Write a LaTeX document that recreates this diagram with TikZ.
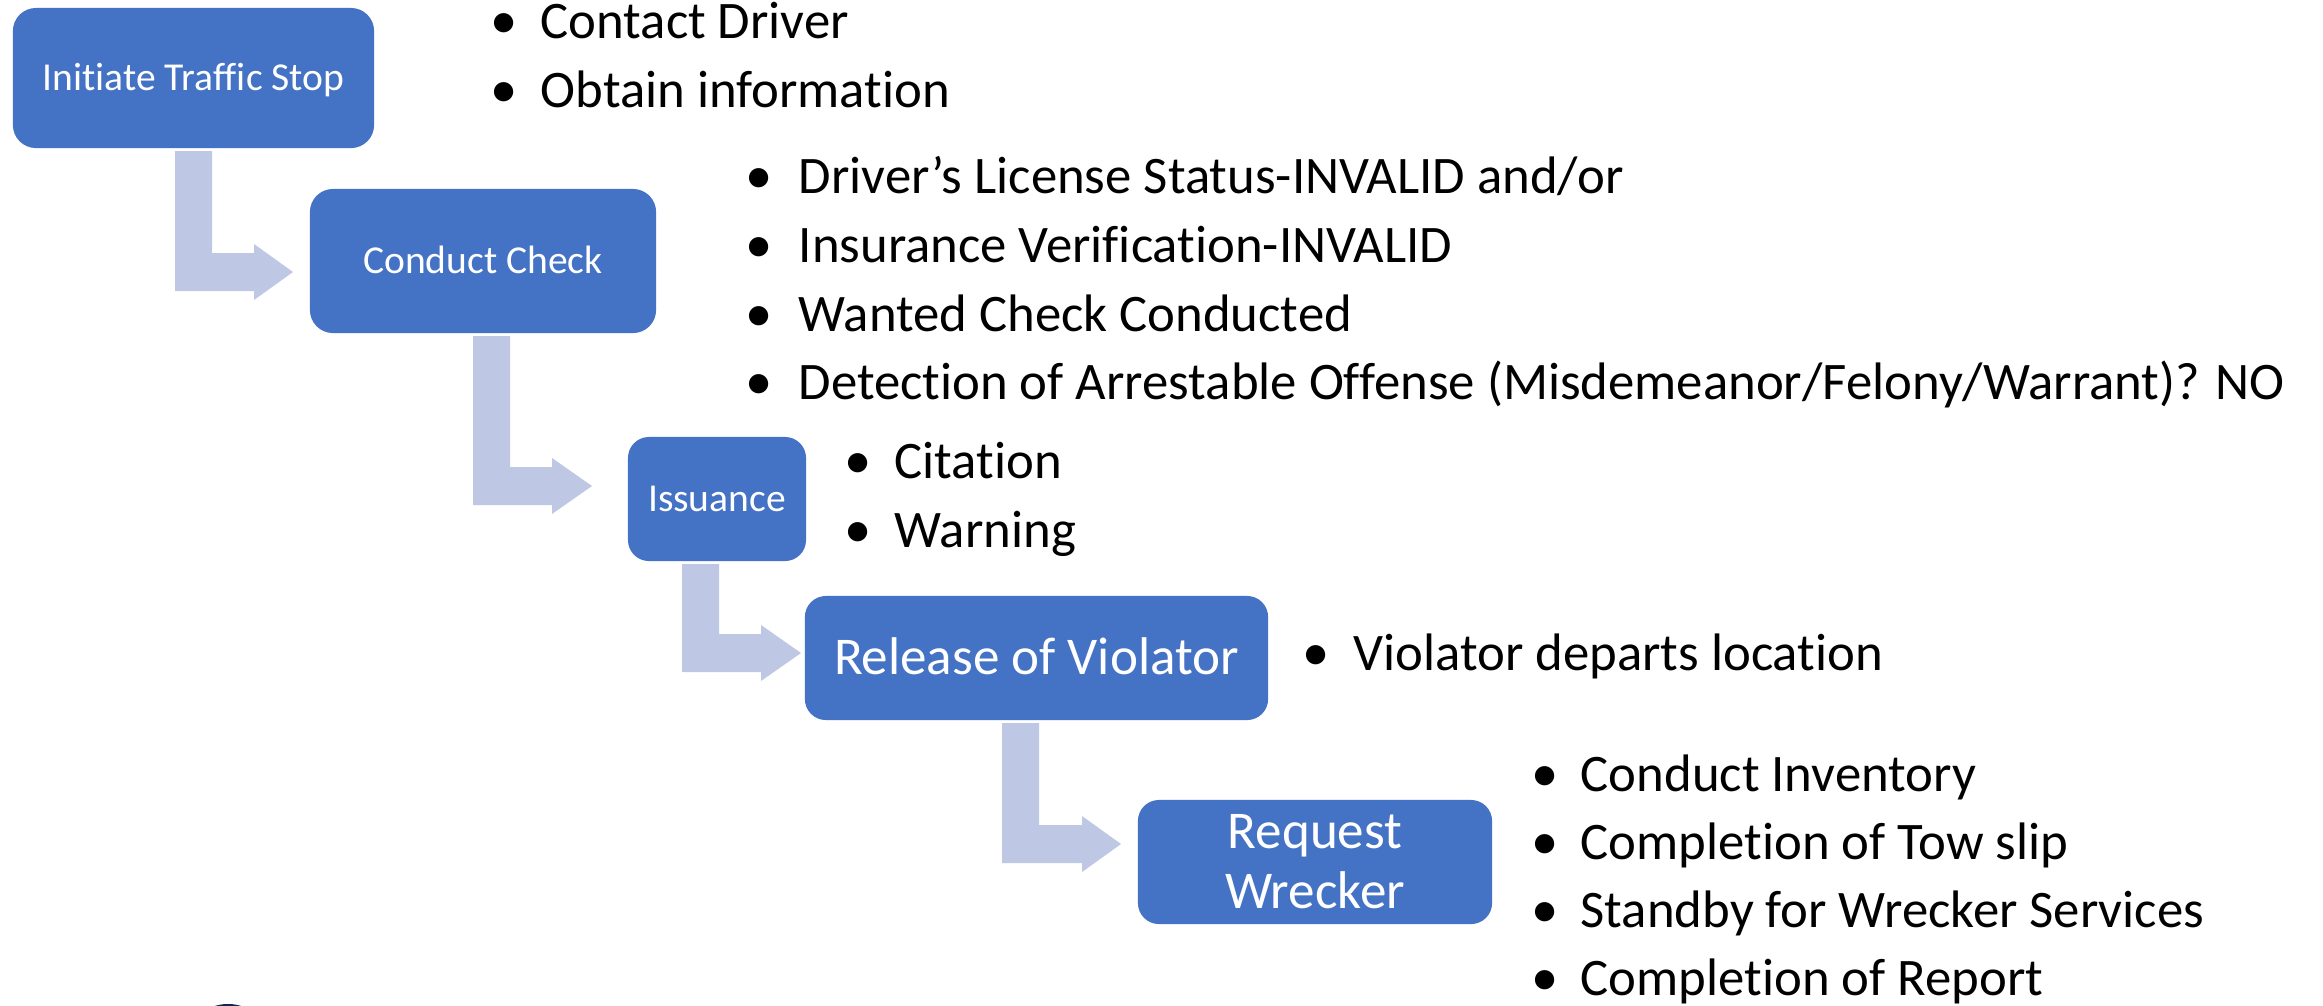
\documentclass[tikz,border=0pt]{standalone}
\usepackage{fontspec}
\setmainfont{Carlito}[Ligatures={NoCommon}]
\definecolor{boxblue}{HTML}{4472C4}
\definecolor{arrowblue}{HTML}{BEC8E4}
\definecolor{navyblob}{HTML}{13264F}
\newcommand\bentarrow[6]{% name, a, top, bottom, headstart, tip
  \fill[arrowfill] (#2,#3) coordinate (#1-top) -- (#2+37,#3) -- (#2+37,#4-38) -- (#5,#4-38) -- (#5,#4-47)
    -- (#6,#4-19) coordinate (#1-tip) -- (#5,#4+9) -- (#5,#4) -- (#2,#4) -- cycle;}
\tikzset{
  stepbox/.style={fill=boxblue, draw=none, text=white, rounded corners=0.21cm, inner sep=0pt, align=center},
  smalllabel/.style={font=\fontsize{11.25}{13.5}\selectfont, text height=7.1pt, text depth=0pt},
  largelabel/.style={font=\fontsize{15.1}{17.1}\selectfont},
  arrowfill/.style={fill=arrowblue, draw=none},
  itemtext/.style={font=\fontsize{15}{17}\selectfont, anchor=base west, inner sep=0pt, text=black},
  bulletdot/.style={font=\fontsize{15.5}{17}\selectfont, anchor=base, inner sep=0pt, text=black}
}
\begin{document}
\begin{tikzpicture}[x=0.01cm, y=-0.01cm]
\clip (0,0) rectangle (2323,1005);
\fill[white] (0,0) rectangle (2323,1005);

% arrows
\bentarrow{ar1}{175}{151}{291}{254}{293}
\bentarrow{ar2}{473}{336}{505}{552}{592}
\bentarrow{ar3}{682}{564}{672}{761}{801}
\bentarrow{ar4}{1002}{723}{863}{1082}{1121}

% boxes
\node[stepbox, smalllabel, minimum width=3.61cm, minimum height=1.40cm, rounded corners=0.23cm] (box1) at (193.5,78) {Initiate Traffic Stop};
\node[stepbox, smalllabel, minimum width=3.46cm, minimum height=1.44cm, rounded corners=0.23cm] (box2) at (483,261) {Conduct Check};
\node[stepbox, smalllabel, minimum width=1.78cm, minimum height=1.24cm] (box3) at (717,499) {Issuance};
\node[stepbox, largelabel, text height=9.5pt, text depth=0pt, minimum width=4.63cm, minimum height=1.24cm] (box4) at (1036.5,658) {Release of Violator};
\node[stepbox, largelabel, minimum width=3.54cm, minimum height=1.24cm] (box5) at (1315,862) {Request\\Wrecker};

% bullets group 1
\node[bulletdot] (d1a) at (504,38) {•};
\node[itemtext] (t1a) at (540,38) {Contact Driver};
\node[bulletdot] (d1b) at (504,107) {•};
\node[itemtext] (t1b) at (540,107) {Obtain information};

% group 2
\node[bulletdot] (d2a) at (759,193) {•};
\node[itemtext] (t2a) at (798,193) {Driver’s License Status-INVALID and/or};
\node[bulletdot] (d2b) at (759,262) {•};
\node[itemtext] (t2b) at (798,262) {Insurance Verification-INVALID};
\node[bulletdot] (d2c) at (759,331) {•};
\node[itemtext] (t2c) at (798,331) {Wanted Check Conducted};
\node[bulletdot] (d2d) at (759,399) {•};
\node[itemtext] (t2d) at (798,399) {Detection of Arrestable Offense (Misdemeanor/Felony/Warrant)? NO};

% group 3
\node[bulletdot] (d3a) at (858,478) {•};
\node[itemtext] (t3a) at (894,478) {Citation};
\node[bulletdot] (d3b) at (858,547) {•};
\node[itemtext] (t3b) at (894,547) {Warning};

% group 4
\node[bulletdot] (d4a) at (1316,670) {•};
\node[itemtext] (t4a) at (1353,670) {Violator departs location};

% group 5
\node[bulletdot] (d5a) at (1545,791) {•};
\node[itemtext] (t5a) at (1580,791) {Conduct Inventory};
\node[bulletdot] (d5b) at (1545,859) {•};
\node[itemtext] (t5b) at (1580,859) {Completion of Tow slip};
\node[bulletdot] (d5c) at (1545,927) {•};
\node[itemtext] (t5c) at (1580,927) {Standby for Wrecker Services};
\node[bulletdot] (d5d) at (1545,995) {•};
\node[itemtext] (t5d) at (1580,995) {Completion of Report};

% partial dark shape at bottom edge
\fill[navyblob] (228,1044) ellipse [x radius=0.42cm, y radius=0.40cm];
\end{tikzpicture}
\end{document}
